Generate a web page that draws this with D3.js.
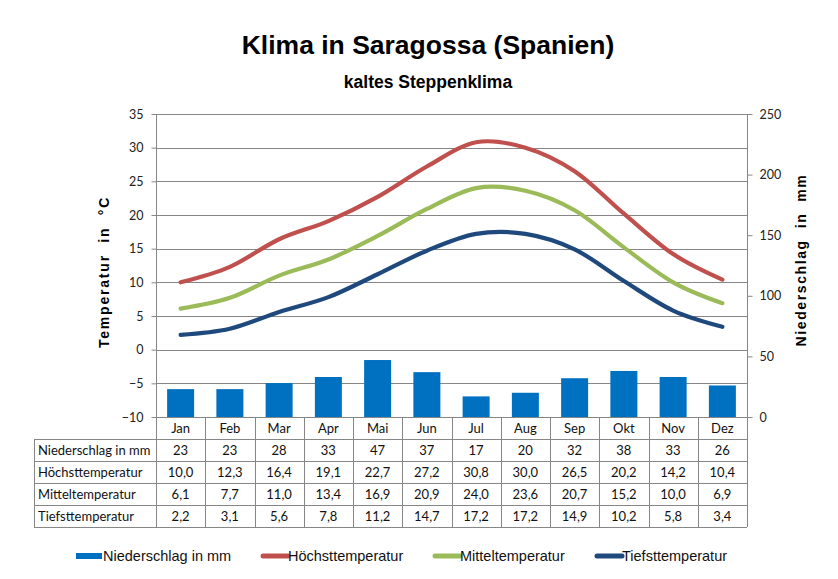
<!DOCTYPE html>
<html><head><meta charset="utf-8">
<script src="https://cdn.jsdelivr.net/npm/d3@7"></script>
<style>body{margin:0;background:#fff}svg{display:block}</style>
</head><body><svg id="c" width="838" height="579"></svg>
<script>
const months = ["Jan","Feb","Mar","Apr","Mai","Jun","Jul","Aug","Sep","Okt","Nov","Dez"];
const niederschlag = [23,23,28,33,47,37,17,20,32,38,33,26];
const hoechst = [10.0,12.3,16.4,19.1,22.7,27.2,30.8,30.0,26.5,20.2,14.2,10.4];
const mittel = [6.1,7.7,11.0,13.4,16.9,20.9,24.0,23.6,20.7,15.2,10.0,6.9];
const tiefst = [2.2,3.1,5.6,7.8,11.2,14.7,17.2,17.2,14.9,10.2,5.8,3.4];
const tempTicks = [-10,-5,0,5,10,15,20,25,30,35];
const precTicks = [0,50,100,150,200,250];
const rowLabels = ["Niederschlag in mm","Höchsttemperatur","Mitteltemperatur","Tiefsttemperatur"];
const colors = {prec:"#0070C0", hoechst:"#C0504D", mittel:"#9BBB59", tiefst:"#1F497D"};

const svg = d3.select("#c");
const X0=156, X1=747, YT=114, YB=417;
const x = d3.scaleBand().domain(months).range([X0,X1]);
const yT = d3.scaleLinear().domain([-10,35]).range([YB,YT]);
const yP = d3.scaleLinear().domain([0,250]).range([YB,YT]);
const grid="#868686";
const tickFont="Lato, 'Open Sans', sans-serif";

// title
svg.append("text").attr("x",428).attr("y",54).attr("text-anchor","middle")
  .attr("font-family","'Liberation Sans', Arial, sans-serif").attr("font-weight","bold").attr("font-size",26.5)
  .text("Klima in Saragossa (Spanien)");
svg.append("text").attr("x",428).attr("y",88).attr("text-anchor","middle")
  .attr("font-family","'Liberation Sans', Arial, sans-serif").attr("font-weight","bold").attr("font-size",17.5)
  .text("kaltes Steppenklima");

// gridlines
svg.append("g").selectAll("line").data(tempTicks.filter(d=>d>-10)).join("line")
  .attr("x1",X0).attr("x2",X1).attr("y1",d=>Math.round(yT(d))+0.5).attr("y2",d=>Math.round(yT(d))+0.5)
  .attr("stroke",grid);

// left axis
const gl = svg.append("g").attr("transform",`translate(${X0+0.5},0)`)
  .call(d3.axisLeft(yT).tickValues(tempTicks).tickSize(5).tickPadding(8));
gl.select(".domain").attr("stroke",grid).attr("d",`M0,${YT}V${YB}`);
gl.selectAll(".tick line").attr("stroke",grid);
gl.selectAll(".tick text").attr("font-family",tickFont).attr("font-size",12.5).attr("fill","#222");
// right axis
const gr = svg.append("g").attr("transform",`translate(${X1+0.5},0)`)
  .call(d3.axisRight(yP).tickValues(precTicks).tickSize(5).tickPadding(7));
gr.select(".domain").attr("stroke",grid).attr("d",`M0,${YT}V${YB}`);
gr.selectAll(".tick line").attr("stroke",grid);
gr.selectAll(".tick text").attr("font-family",tickFont).attr("font-size",12.5).attr("fill","#222");

// axis titles
svg.append("text").attr("transform","translate(109,272) rotate(-90)").attr("text-anchor","middle")
  .attr("font-family","'Liberation Sans', Arial, sans-serif").attr("font-weight","bold").attr("font-size",14)
  .attr("letter-spacing",1.8).attr("xml:space","preserve").text("Temperatur  in  °C");
svg.append("text").attr("transform","translate(806,260) rotate(-90)").attr("text-anchor","middle")
  .attr("font-family","'Liberation Sans', Arial, sans-serif").attr("font-weight","bold").attr("font-size",14)
  .attr("letter-spacing",1.6).attr("xml:space","preserve").text("Niederschlag  in  mm");

// bars
const bw = 27;
svg.append("g").selectAll("rect").data(niederschlag).join("rect")
  .attr("x",(d,i)=>x(months[i])+x.bandwidth()/2-bw/2).attr("width",bw)
  .attr("y",d=>yP(d)).attr("height",d=>YB-yP(d)).attr("fill",colors.prec);

// lines
const line = (s)=>d3.line().x((d,i)=>x(months[i])+x.bandwidth()/2).y(d=>yT(d)).curve(d3.curveCatmullRom.alpha(0))(s);
[[hoechst,colors.hoechst],[mittel,colors.mittel],[tiefst,colors.tiefst]].forEach(([s,c])=>{
  svg.append("path").attr("d",line(s)).attr("fill","none").attr("stroke",c).attr("stroke-width",4.2).attr("stroke-linecap","round");
});

// bottom axis line
svg.append("line").attr("x1",X0).attr("x2",X1+5).attr("y1",YB+0.5).attr("y2",YB+0.5).attr("stroke",grid);

// table
const rowY = [417,439,461,483,505,527];
const TL = 34;
const tg = svg.append("g");
rowY.slice(1).forEach(y=>tg.append("line").attr("x1",TL).attr("x2",X1).attr("y1",y+0.5).attr("y2",y+0.5).attr("stroke",grid));
tg.append("line").attr("x1",TL+0.5).attr("x2",TL+0.5).attr("y1",439).attr("y2",527).attr("stroke",grid);
d3.range(13).forEach(i=>{
  const xx = Math.round(X0+i*x.step())+0.5;
  tg.append("line").attr("x1",xx).attr("x2",xx).attr("y1",YB).attr("y2",527).attr("stroke",grid);
});
const fmt = v=>v.toFixed(1).replace(".",",");
const tf = "Lato, 'Open Sans', sans-serif";
tg.selectAll("text.m").data(months).join("text").attr("class","m")
  .attr("x",d=>x(d)+x.bandwidth()/2).attr("y",433).attr("text-anchor","middle")
  .attr("font-family",tf).attr("font-size",13).attr("fill","#111").text(d=>d);
const rows = [niederschlag.map(String), hoechst.map(fmt), mittel.map(fmt), tiefst.map(fmt)];
rows.forEach((r,ri)=>{
  const yy = rowY[ri+1]+16;
  tg.append("text").attr("x",TL+4).attr("y",yy).attr("font-family",tf).attr("font-size",13).attr("fill","#111").text(rowLabels[ri]);
  r.forEach((v,i)=>tg.append("text").attr("x",x(months[i])+x.bandwidth()/2).attr("y",yy).attr("text-anchor","middle")
    .attr("font-family",tf).attr("font-size",13).attr("fill","#111").text(v));
});

// legend
const lg = svg.append("g").attr("font-family","'Liberation Sans', Arial, sans-serif").attr("font-size",14.5);
const legendItems = [
  {label:"Niederschlag in mm", c:colors.prec, type:"rect", x:76},
  {label:"Höchsttemperatur", c:colors.hoechst, type:"line", x:261},
  {label:"Mitteltemperatur", c:colors.mittel, type:"line", x:433},
  {label:"Tiefsttemperatur", c:colors.tiefst, type:"line", x:595}
];
legendItems.forEach(it=>{
  if(it.type==="rect") lg.append("rect").attr("x",it.x).attr("y",553).attr("width",26).attr("height",6).attr("fill",it.c);
  else lg.append("line").attr("x1",it.x+2).attr("x2",it.x+27).attr("y1",556).attr("y2",556).attr("stroke",it.c).attr("stroke-width",5).attr("stroke-linecap","round");
  lg.append("text").attr("x",it.x+27).attr("y",561).attr("fill","#111").text(it.label);
});
</script></body></html>
